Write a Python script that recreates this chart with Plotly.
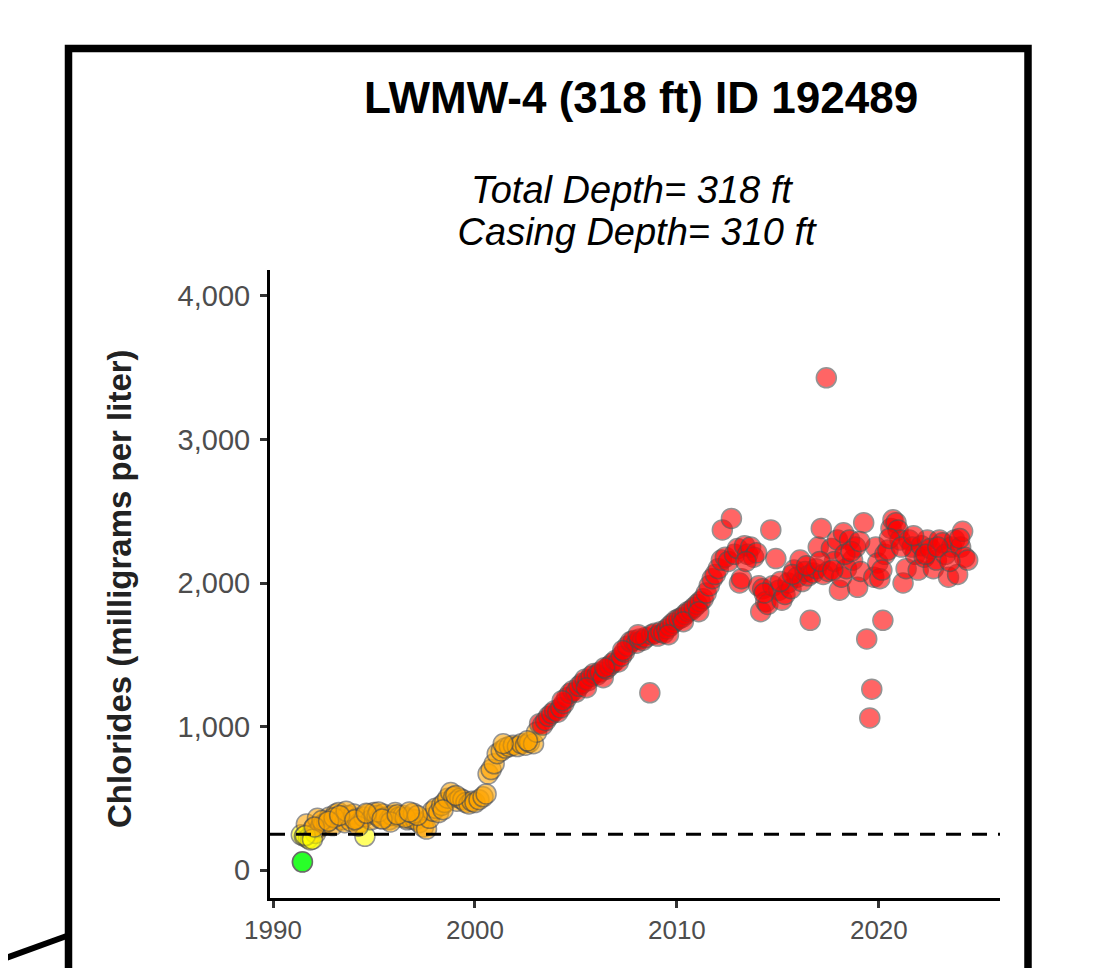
import plotly.graph_objects as go

# ---------------- data ----------------
sample_year = [
    1991.40, 1991.45, 1991.46, 1991.55, 1991.65, 1991.75, 1991.85, 1992.00, 1992.10, 1992.20,
    1992.35, 1992.50, 1992.65, 1992.80, 1992.95, 1993.10, 1993.25, 1993.40, 1993.55, 1993.70,
    1993.85, 1994.00, 1994.15, 1994.30, 1994.50, 1994.55, 1994.70, 1994.85, 1995.00, 1995.15,
    1995.30, 1995.45, 1995.60, 1995.75, 1995.90, 1996.05, 1996.25, 1996.45, 1996.65, 1996.85,
    1997.05, 1997.25, 1997.45, 1997.60, 1997.75, 1997.90, 1998.05, 1998.20, 1998.35, 1998.50,
    1998.65, 1998.80, 1998.95, 1999.10, 1999.25, 1999.40, 1999.55, 1999.70, 1999.85, 2000.00,
    2000.20, 2000.40, 2000.55, 2000.65, 2000.80, 2000.95, 2001.10, 2001.30, 2001.50, 2001.70,
    2001.90, 2002.10, 2002.30, 2002.50, 2002.70, 2002.90, 2003.05, 2003.20, 2003.35, 2003.50,
    2003.65, 2003.80, 2003.95, 2004.10, 2004.25, 2004.40, 2004.55, 2004.70, 2004.85, 2005.00,
    2005.15, 2005.30, 2005.45, 2005.60, 2005.75, 2005.90, 2006.05, 2006.20, 2006.35, 2006.50,
    2006.65, 2006.80, 2006.95, 2007.10, 2007.25, 2007.40, 2007.55, 2007.70, 2007.85, 2008.00,
    2008.15, 2008.30, 2008.45, 2008.66, 2008.75, 2008.90, 2009.05, 2009.20, 2009.35, 2009.50,
    2009.65, 2009.80, 2009.95, 2010.10, 2010.25, 2010.40, 2010.55, 2010.70, 2010.85, 2011.00,
    2011.15, 2011.30, 2011.45, 2011.60, 2011.75, 2011.90, 2012.05, 2012.20, 2012.25, 2012.40,
    2012.55, 2012.70, 2012.85, 2013.00, 2013.10, 2013.20, 2013.35, 2013.50, 2013.65, 2013.80,
    2013.95, 2014.05, 2014.15, 2014.25, 2014.40, 2014.50, 2014.65, 2014.75, 2014.90, 2015.05,
    2015.20, 2015.35, 2015.50, 2015.65, 2015.80, 2015.95, 2016.10, 2016.20, 2016.35, 2016.50,
    2016.60, 2016.75, 2016.90, 2017.00, 2017.15, 2017.25, 2017.40, 2017.50, 2017.65, 2017.80,
    2017.95, 2018.05, 2018.15, 2018.25, 2018.40, 2018.55, 2018.70, 2018.85, 2018.95, 2019.10,
    2019.25, 2019.40, 2019.55, 2019.65, 2019.75, 2019.85, 2019.95, 2020.05, 2020.20, 2020.30,
    2020.45, 2020.60, 2020.70, 2020.85, 2020.95, 2021.05, 2021.20, 2021.35, 2021.50, 2021.65,
    2021.80, 2021.95, 2022.10, 2022.25, 2022.40, 2022.55, 2022.70, 2022.85, 2023.00, 2023.15,
    2023.30, 2023.45, 2023.60, 2023.75, 2023.90, 2024.05, 2024.15, 2024.25, 2024.40,
    1992.42, 1993.02, 1993.62, 1994.22, 1995.22, 1995.82, 1996.55, 1996.95, 1997.15, 1998.42,
    1999.05, 2001.40, 2002.60, 2004.32, 2005.52, 2006.42, 2007.32, 2008.08, 2009.58, 2010.32,
    2011.08, 2013.42, 2014.32, 2015.12, 2015.72, 2016.42, 2017.08, 2017.72, 2018.32, 2018.62,
    2019.05, 2020.15, 2020.52, 2021.12, 2021.72, 2022.32, 2022.92, 2023.52, 2024.00,
    1991.60, 1991.95, 1992.05, 1992.75, 1993.30, 1994.05, 1994.62, 1995.40, 1996.15, 1996.75,
]
chloride_mgL = [
    245, 55, 57, 235, 320, 220, 210, 290, 255, 360,
    300, 320, 330, 370, 310, 390, 400, 350, 330, 380,
    340, 390, 360, 330, 370, 235, 390, 350, 400, 380,
    360, 390, 370, 350, 380, 400, 370, 380, 350, 355,
    350, 330, 300, 285, 360, 410, 430, 400, 450, 470,
    500, 540, 510, 480, 500, 490, 470, 460, 480, 470,
    490, 510, 530, 670, 700, 740, 810, 830, 850, 860,
    870, 860, 880, 870, 890, 880, 960, 1020, 1010, 1040,
    1070, 1090, 1110, 1100, 1130, 1160, 1200, 1230, 1250, 1240,
    1280, 1300, 1330, 1320, 1350, 1370, 1360, 1380, 1340, 1400,
    1420, 1440, 1460, 1450, 1490, 1520, 1560, 1590, 1600, 1580,
    1610, 1600, 1620, 1235, 1640, 1650, 1630, 1660, 1650, 1680,
    1700, 1720, 1740, 1750, 1760, 1780, 1800, 1810, 1830, 1850,
    1870, 1890, 1930, 1980, 2030, 2060, 2100, 2160, 2370, 2180,
    2150, 2450, 2200, 2240, 2000, 2030, 2260, 2200, 2250, 2180,
    2210, 1980, 1800, 1960, 1870, 1850, 2370, 1980, 2170, 1950,
    1880, 1920, 2000, 1960, 2090, 2040, 2160, 2010, 2080, 2050,
    1740, 2070, 2100, 2250, 2380, 2060, 3430, 2080, 2240, 2150,
    2300, 1950, 2040, 2350, 2100, 2300, 2160, 2250, 1970, 2080,
    2420, 1610, 1060, 1260, 2040, 2250, 2140, 2030, 1740, 2200,
    2230, 2380, 2440, 2420, 2370, 2300, 2000, 2100, 2300, 2250,
    2200, 2090, 2260, 2180, 2300, 2240, 2100, 2160, 2300, 2280,
    2200, 2040, 2250, 2300, 2060, 2250, 2360, 2180, 2160,
    345, 365, 410, 305, 405, 335, 365, 395, 380, 420,
    520, 880, 900, 1180, 1270, 1410, 1530, 1640, 1640, 1730,
    1800, 2150, 1930, 2010, 2060, 2120, 2150, 2090, 2200, 2220,
    2290, 2090, 2310, 2250, 2330, 2200, 2250, 2150, 2310,
    240, 215, 300, 340, 380, 350, 395, 355, 385, 405,
]
reference_level = 250
class_breaks = [100, 250, 1000]
class_colors = ["#00FF00", "#FFFF00", "#FFA500", "#FF0000"]

x_ticks = [1990, 2000, 2010, 2020]
y_ticks = [0, 1000, 2000, 3000, 4000]

title_text = "LWMW-4 (318 ft) ID 192489"
subtitle_1 = "Total Depth= 318 ft"
subtitle_2 = " Casing Depth= 310 ft"
y_title = "Chlorides (milligrams per liter)"


def class_color(v):
    for b, c in zip(class_breaks, class_colors):
        if v < b:
            return c
    return class_colors[-1]


point_colors = [class_color(v) for v in chloride_mgL]

FONT = "Liberation Sans, Arial, sans-serif"
W, H = 1105, 968
OFF = 8  # page body margin offset in the screenshot
# plot area in screenshot pixels: x 270..1000, y 270..898
L, T = 270 - OFF, 270 - OFF
R = W - (1000 - OFF)
B = H - (898 - OFF)
PW, PH = W - L - R, H - T - B


def px(xp):
    return (xp - OFF - L) / PW


def py(yp):
    return (H - B - (yp - OFF)) / PH


fig = go.Figure()
fig.add_trace(go.Scatter(
    x=sample_year, y=chloride_mgL, mode="markers",
    marker=dict(size=20, color=point_colors, opacity=0.6,
                line=dict(color="#4D4D4D", width=1.5)),
    showlegend=False, hoverinfo="x+y",
))

shapes = [
    dict(type="line", xref="paper", yref="y", x0=0, x1=1,
         y0=reference_level, y1=reference_level,
         line=dict(color="black", width=3, dash="15px,11px"), layer="above"),
    dict(type="rect", xref="paper", yref="paper",
         x0=px(68.5), x1=px(1028), y0=py(1020), y1=py(48.5),
         line=dict(color="black", width=7.5), fillcolor="rgba(0,0,0,0)"),
    dict(type="line", xref="paper", yref="paper",
         x0=px(-12), y0=py(964.5), x1=px(68), y1=py(935.5),
         line=dict(color="black", width=6)),
]

annotations = [
    dict(text="<b>" + title_text + "</b>", xref="paper", yref="paper",
         x=px(641), y=py(97), xanchor="center", yanchor="middle",
         showarrow=False, font=dict(family=FONT, size=44, color="black")),
    dict(text="<i>" + subtitle_1 + "</i>", xref="paper", yref="paper",
         x=px(632), y=py(190), xanchor="center", yanchor="middle",
         showarrow=False, font=dict(family=FONT, size=38, color="black")),
    dict(text="<i>" + subtitle_2 + "</i>", xref="paper", yref="paper",
         x=px(632), y=py(232), xanchor="center", yanchor="middle",
         showarrow=False, font=dict(family=FONT, size=38, color="black")),
    dict(text="<b>" + y_title + "</b>", xref="paper", yref="paper",
         x=px(119), y=py(589), xanchor="center", yanchor="middle",
         textangle=-90, showarrow=False,
         font=dict(family=FONT, size=33, color="#222222")),
]

fig.update_layout(
    width=W, height=H,
    margin=dict(l=L, r=R, t=T, b=B, pad=0),
    paper_bgcolor="white", plot_bgcolor="white",
    font=dict(family=FONT, color="#4D4D4D"),
    shapes=shapes, annotations=annotations,
    showlegend=False,
)
fig.update_xaxes(
    range=[1989.85, 2026.0], tickvals=x_ticks, ticktext=[str(t) for t in x_ticks],
    showgrid=False, zeroline=False,
    showline=True, linecolor="black", linewidth=3,
    ticks="outside", ticklen=7, tickwidth=3, tickcolor="#333333",
    tickfont=dict(family=FONT, size=26, color="#4D4D4D"),
)
fig.update_yaxes(
    range=[-195, 4181], tickvals=y_ticks, tickformat=",",
    showgrid=False, zeroline=False,
    showline=True, linecolor="black", linewidth=3,
    ticks="outside", ticklen=7, tickwidth=3, tickcolor="#333333",
    tickfont=dict(family=FONT, size=29, color="#4D4D4D"),
    ticklabelstandoff=4,
)

fig.write_html("out.html")
